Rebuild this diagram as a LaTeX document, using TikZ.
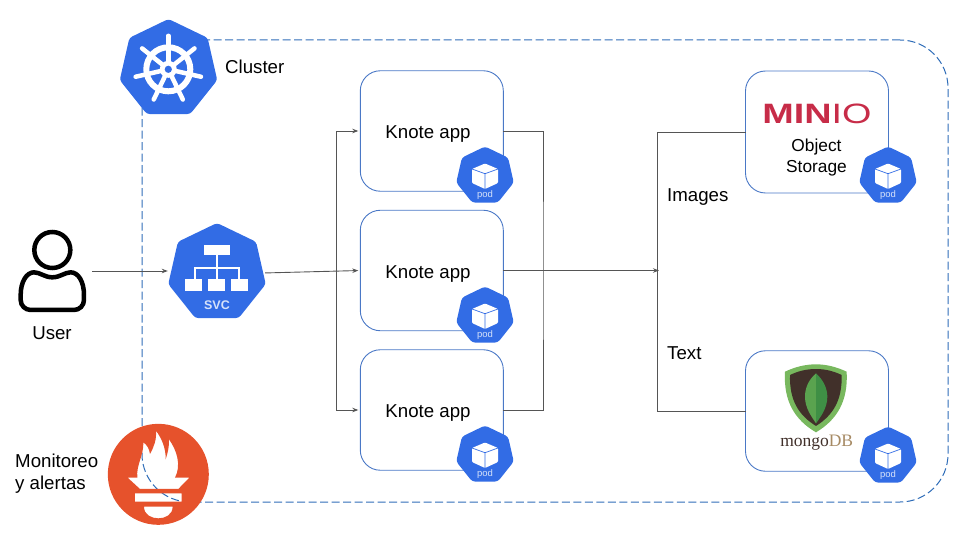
\documentclass[tikz,border=0pt]{standalone}
\usepackage{fontspec}
\setmainfont{Liberation Sans}
\newfontfamily\mongofont{Liberation Serif}
\usetikzlibrary{positioning,arrows.meta,calc,shapes.geometric}
\definecolor{kubeblue}{HTML}{326CE5}
\definecolor{boxblue}{HTML}{4A78C6}
\definecolor{dashblue}{HTML}{2F6DB8}
\definecolor{linkgray}{HTML}{555555}
\definecolor{promorange}{HTML}{E6522C}
\definecolor{miniored}{HTML}{C72C48}
\definecolor{mongobrown}{HTML}{41302A}
\definecolor{mongotan}{HTML}{A68A64}
\definecolor{mongogreen}{HTML}{78B85E}
\definecolor{leaflight}{HTML}{5AA34F}
\definecolor{leafdark}{HTML}{3F8F45}
\tikzset{
  appbox/.style  = {shape=rectangle, rounded corners=20pt, draw=boxblue, line width=0.9pt,
                    minimum width=143pt, minimum height=120.5pt, outer sep=0pt},
  hepta/.style   = {shape=regular polygon, regular polygon sides=7, fill=kubeblue,
                    rounded corners=3pt, inner sep=0pt, outer sep=0pt},
  podhex/.style  = {hepta, minimum size=59pt},
  bighex/.style  = {hepta, minimum size=100pt},
  label/.style   = {font=\fontsize{18.67}{22}\selectfont, inner sep=0pt, align=left},
  podtext/.style = {font=\fontsize{9.5}{10}\selectfont, text=white!80!kubeblue, inner sep=0pt},
  link/.style    = {draw=linkgray, line width=0.9pt},
  arrowlink/.style = {link, -{Stealth[length=6pt,width=4.5pt]}, shorten >=2pt}
}
\newcommand{\vpod}[3]{
  \node [podhex] (#1) at (#2,#3) {};
  \begin{scope}[shift={(#1.center)}]
    \fill [white, rounded corners=1pt] (0,-12.5) -- (13,-7) -- (13,7) -- (0,13) -- (-13,7) -- (-13,-7) -- cycle;
    \draw [kubeblue, line width=0.7pt] (-13,-7) -- (0,-2.3) -- (13,-7) (0,-2.3) -- (0,13);
  \end{scope}
  \node [podtext, below=14.5pt of #1.center] (#1text) {pod};
}
\begin{document}
\begin{tikzpicture}[x=1pt,y=-1pt]
\useasboundingbox (0,0) rectangle (960,540);
% cluster frame
\node [draw=dashblue, line width=1pt, dash pattern=on 8pt off 3.5pt, rounded corners=48pt,
  minimum width=806pt, minimum height=462pt, outer sep=0pt] (cluster) at (545,271) {};
% boxes
\node [appbox] (app1) at (431.8,131) {};
\node [appbox] (app2) at (431.8,270.5) {};
\node [appbox] (app3) at (431.8,410) {};
\node [appbox, minimum height=122pt] (minio) at (817,132) {};
\node [appbox] (mongo) at (817,411) {};
\node [label] (app1text) at (428,134) {Knote app};
\node [label] (app2text) at (428,274) {Knote app};
\node [label] (app3text) at (428,413) {Knote app};
% user
\node [inner sep=0pt, minimum width=68pt, minimum height=80pt] (user) at (52,271) {};
\begin{scope}[shift={(0,210)},x=0.3333pt,y=-0.3333pt,line width=4.5pt,black]
  \draw (157,120) circle (18pt);
  \draw [rounded corners=10pt] (62,255) -- (62,300) -- (252,300) -- (252,255);
  \draw (252,255) .. controls (252,215) and (235,187) .. (212,187)
    .. controls (195,187) and (180,202) .. (157,202)
    .. controls (134,202) and (120,187) .. (102,187)
    .. controls (80,187) and (62,215) .. (62,255);
\end{scope}
\node [label] (usertext) at (52,333) {User};
% service and kubernetes logo
\node [bighex] (svc) at (217,273) {};
\begin{scope}[shift={(0,210)},x=0.3333pt,y=-0.3333pt]
  \fill [white] (612,105) rectangle (690,135);
  \fill [white] (556,207) rectangle (606,242);
  \fill [white] (625,207) rectangle (676,242);
  \fill [white] (694,207) rectangle (745,242);
  \draw [white, line width=1.8pt] (650,135) -- (650,207) (585,207) -- (585,175) -- (718,175) -- (718,207);
\end{scope}
\node [font=\bfseries\fontsize{12.5}{13}\selectfont, text=white!80!kubeblue, inner sep=0pt] (svctext) at (217,305) {SVC};
\node [bighex] (kube) at (168.5,69) {};
\begin{scope}[shift={(168.3,69.3)},white]
  \draw [line width=6pt] (0,0) circle (22pt);
  \foreach \k in {0,...,6}
    \draw [line width=4.5pt, line cap=round] (0,0) -- (-90+\k*51.43:33.5);
  \fill (0,0) circle (8.5pt);
  \fill [kubeblue] (0,0) circle (3.6pt);
\end{scope}
\node [label, anchor=base west] (clustertext) at (225,74) {Cluster};
% prometheus
\begin{scope}[shift={(0,410)},x=0.3333pt,y=-0.3333pt]
  \fill [promorange, even odd rule] (475,193) circle (50.5pt)
    (412,203) .. controls (408,165) and (432,135) .. (430,97)
    .. controls (442,105) and (448,118) .. (450,132)
    .. controls (462,110) and (470,90) .. (468,62)
    .. controls (485,85) and (498,115) .. (497,148)
    .. controls (503,130) and (508,110) .. (507,88)
    .. controls (530,120) and (545,165) .. (525,203)
    -- (568,203) -- (535,237) -- (420,237) -- (383,203) -- cycle
    (405,250) rectangle (545,275)
    (432,290) -- (518,290) .. controls (518,315) and (495,325) .. (475,325)
    .. controls (455,325) and (432,315) .. (432,290) -- cycle;
\end{scope}
\node [label, anchor=west] (promtext) at (15,474) {Monitoreo\\y alertas};
% connectors
\coordinate (fan) at (336,270.5);
\coordinate (merge) at (543,270.5);
\coordinate (store) at (657,270.5);
\draw [arrowlink, shorten <=6pt, shorten >=3pt] (user.east) -- (svc.west |- user.east);
\draw [arrowlink, shorten <=2pt] (svc.east) -- (app2.west);
\draw [arrowlink] (fan) |- (app1.west);
\draw [arrowlink] (fan) |- (app3.west);
\draw [link] (app1.east) -| (merge) |- (app3.east);
\draw [arrowlink, shorten >=-2pt] (app2.east) -- (store);
\draw [link] (minio.west) -| (store) |- (mongo.west);
\node [label, anchor=base west] (imagestext) at (667,201) {Images};
\node [label, anchor=base west] (texttext) at (667,359) {Text};
% minio
\node [xscale=1.35, font=\fontsize{28}{30}\selectfont, text=miniored, inner sep=0pt] (miniologo) at (817,113.5) {\textbf{MIN}IO};
\node [font=\fontsize{17.33}{21}\selectfont, align=center, inner sep=0pt] (miniotext) at (816.5,158) {Object\\Storage};
% mongo
\begin{scope}[shift={(730,345)},x=0.3333pt,y=-0.3333pt]
  \fill [mongogreen] (258,58) .. controls (225,58) and (195,66) .. (165,80)
    .. controls (160,170) and (195,225) .. (258,262)
    .. controls (320,225) and (355,170) .. (350,80)
    .. controls (320,66) and (290,58) .. (258,58) -- cycle;
  \fill [mongobrown] (258,72) .. controls (230,72) and (205,78) .. (180,90)
    .. controls (178,165) and (205,210) .. (258,243)
    .. controls (310,210) and (337,165) .. (335,90)
    .. controls (310,78) and (285,72) .. (258,72) -- cycle;
  \fill [leaflight] (258,85) .. controls (235,105) and (225,130) .. (225,155)
    .. controls (225,190) and (245,215) .. (258,235) -- cycle;
  \fill [leafdark] (258,85) .. controls (280,105) and (292,130) .. (292,155)
    .. controls (292,190) and (272,215) .. (258,235) -- cycle;
\end{scope}
\node [anchor=base, font=\mongofont\fontsize{17.5}{18}\selectfont, inner sep=0pt, text=mongobrown] (mongotext) at (816.7,446.7) {mongo\textcolor{mongotan}{DB}};
% pods
\vpod{pod1}{485}{176}
\vpod{pod2}{485}{316}
\vpod{pod3}{485}{455}
\vpod{pod4}{888}{176}
\vpod{pod5}{888}{456}
\end{tikzpicture}
\end{document}
